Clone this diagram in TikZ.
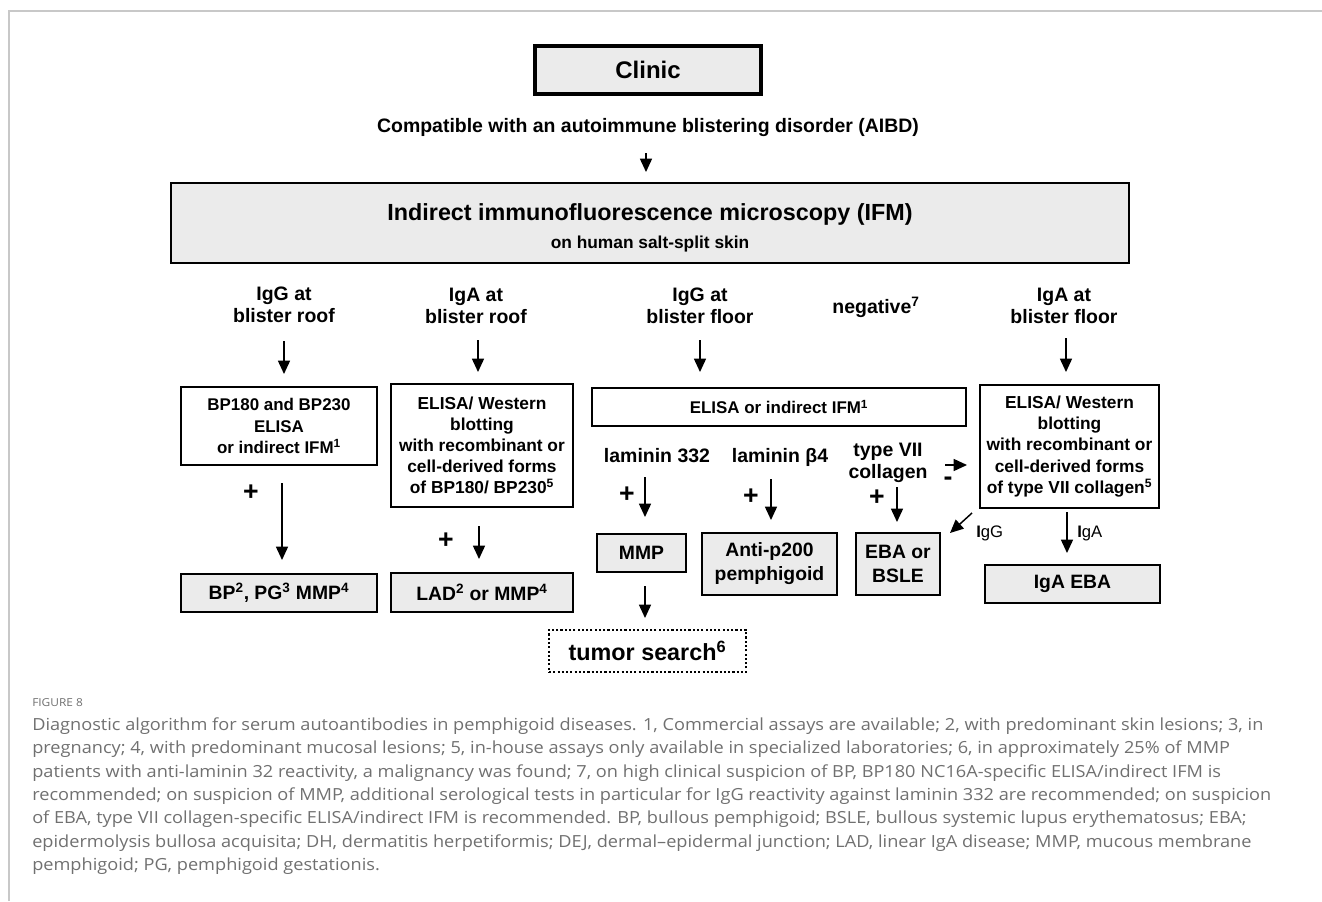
\documentclass[tikz,border=0pt]{standalone}
\usepackage{fontspec}
\setmainfont{Liberation Sans}
\newfontfamily\capfont[FakeStretch=1.09]{Open Sans}
\usetikzlibrary{arrows.meta}
\definecolor{boxgray}{HTML}{EBEBEB}
\definecolor{framegray}{HTML}{C8C8C8}
\definecolor{capgray}{HTML}{707070}
\newdimen\pxu \pxu=0.75pt
\newcommand\myfs[2]{\fontsize{#1}{#2}\selectfont}
\begin{document}
\begin{tikzpicture}[x=0.75pt,y=-0.75pt,
 box/.style={draw, line width=2pt, align=center, inner sep=0pt, font=\bfseries\myfs{13}{15.8}},
 res/.style={box, fill=boxgray, font=\bfseries\myfs{14.5}{18}},
 lbl/.style={align=center, inner sep=0pt, font=\bfseries\myfs{14.6}{16.5}},
 arr/.style={line width=1.1pt, -{Triangle[length=10pt,width=9pt]}},
 pls/.style={inner sep=0pt, font=\bfseries\myfs{20}{20}},
 sm/.style={inner sep=0pt, font=\myfs{12.5}{12.5}},
 captxt/.style={anchor=base west, inner sep=0pt, font=\capfont\myfs{12.5}{14}, text=capgray}
]
\path[use as bounding box] (0,0) rectangle (1322,901);
\draw[framegray, line width=1.1pt] (9,901) -- (9,11) -- (1322,11);

% top
\node[res, line width=2.3pt, minimum width=226\pxu, minimum height=48\pxu, font=\bfseries\myfs{18}{20}] (clinic) at (648,70) {Clinic};
\node[lbl, font=\bfseries\myfs{14.6}{16}] (compat) at (648,128) {Compatible with an autoimmune blistering disorder (AIBD)};
\node[res, minimum width=958\pxu, minimum height=80\pxu] (ifm) at (650,223) {{\myfs{17.5}{20}\rule{0pt}{20pt}Indirect immunofluorescence microscopy (IFM)}\\[3pt]{\myfs{13}{14}on human salt-split skin}};

% column labels
\node[lbl] (c1) at (284,305) {IgG at\\blister roof};
\node[lbl] (c2) at (476,306) {IgA at\\blister roof};
\node[lbl] (c3) at (700,306) {IgG at\\blister floor};
\node[lbl] (c4) at (876,307) {negative\textsuperscript{7}};
\node[lbl] (c5) at (1064,306) {IgA at\\blister floor};

% test boxes
\node[box, minimum width=196\pxu, minimum height=78\pxu, font=\bfseries\myfs{12.7}{15.8}] (bp) at (279,426) {BP180 and BP230\\ELISA\\or indirect IFM\textsuperscript{1}};
\node[box, minimum width=182\pxu, minimum height=123\pxu] (wl) at (482,445.5) {ELISA/ Western\\blotting\\with recombinant or\\cell-derived forms\\of BP180/ BP230\textsuperscript{5}};
\node[box, minimum width=374\pxu, minimum height=38\pxu, font=\bfseries\myfs{12.7}{15.8}] (ei) at (779,407) {ELISA or indirect IFM\textsuperscript{1}};
\node[box, minimum width=179\pxu, minimum height=123\pxu] (wr) at (1069.5,446.5) {ELISA/ Western\\blotting\\with recombinant or\\cell-derived forms\\of type VII collagen\textsuperscript{5}};

% antigen labels
\node[lbl] (l332) at (657,456) {laminin 332};
\node[lbl] (lb4) at (780,457) {laminin β4};
\node[lbl] (t7) at (888,463) {type VII\\collagen};

% results
\node[res, minimum width=196\pxu, minimum height=38\pxu] (bp2) at (279,593) {BP\textsuperscript{2}, PG\textsuperscript{3} MMP\textsuperscript{4}};
\node[res, minimum width=182\pxu, minimum height=39\pxu] (lad) at (482,592.5) {LAD\textsuperscript{2} or MMP\textsuperscript{4}};
\node[res, minimum width=89\pxu, minimum height=38\pxu] (mmp) at (641.5,553) {MMP};
\node[box, line width=1.6pt, dash pattern=on 1.6pt off 1.6pt, minimum width=197\pxu, minimum height=42\pxu, font=\bfseries\myfs{17.5}{20}] (tumor) at (647.5,651) {tumor search\textsuperscript{6}};
\node[res, minimum width=135\pxu, minimum height=62\pxu] (p200) at (769.5,564) {Anti-p200\\pemphigoid};
\node[res, minimum width=84\pxu, minimum height=62\pxu] (eba) at (898,564) {EBA or\\BSLE};
\node[res, minimum width=175\pxu, minimum height=38\pxu] (igaeba) at (1072.5,584) {IgA EBA};

% plus / minus signs
\node[pls] (p1) at (251,493) {+};
\node[pls] (p2) at (446,541) {+};
\node[pls] (p3) at (627,495) {+};
\node[pls] (p4) at (751,497) {+};
\node[pls] (p5) at (877,498) {+};
\node[pls] (m1) at (948,481) {-};

% small labels
\node[sm, anchor=west] (lg) at (976,533) {\textbf{I}gG};
\node[sm, anchor=west] (la) at (1077,533) {\textbf{I}gA};

% arrow end points
\coordinate (a0s) at (646,153); \coordinate (a0e) at (646,172);
\coordinate (a1s) at (284,341); \coordinate (a1e) at (284,374);
\coordinate (a2s) at (478,340); \coordinate (a2e) at (478,372);
\coordinate (a3s) at (700,340); \coordinate (a3e) at (700,372);
\coordinate (a5s) at (1066,338); \coordinate (a5e) at (1066,372);
\coordinate (b1s) at (282,483); \coordinate (b1e) at (282,560);
\coordinate (b2s) at (479,526); \coordinate (b2e) at (479,559);
\coordinate (b3s) at (645,477); \coordinate (b3e) at (645,517);
\coordinate (b4s) at (771,479); \coordinate (b4e) at (771,520);
\coordinate (b5s) at (897,487); \coordinate (b5e) at (897,522);
\coordinate (b6s) at (645,586); \coordinate (b6e) at (645,618);
\coordinate (ns) at (945,465); \coordinate (ne) at (967,465);
\coordinate (gs) at (972,513); \coordinate (ge) at (950,533);
\coordinate (as) at (1067,512); \coordinate (ae) at (1067,553);

\draw[arr] (a0s) -- (a0e);
\draw[arr] (a1s) -- (a1e);
\draw[arr] (a2s) -- (a2e);
\draw[arr] (a3s) -- (a3e);
\draw[arr] (a5s) -- (a5e);
\draw[arr] (b1s) -- (b1e);
\draw[arr] (b2s) -- (b2e);
\draw[arr] (b3s) -- (b3e);
\draw[arr] (b4s) -- (b4e);
\draw[arr] (b5s) -- (b5e);
\draw[arr] (b6s) -- (b6e);
\draw[arr] (ns) -- (ne);
\draw[arr] (gs) -- (ge);
\draw[arr] (as) -- (ae);

% caption
\node[captxt, font=\capfont\myfs{8.2}{10}] (fig) at (32,706) {FIGURE 8};
\node[captxt] (cl1) at (32,730) {Diagnostic algorithm for serum autoantibodies in pemphigoid diseases. 1, Commercial assays are available; 2, with predominant skin lesions; 3, in};
\node[captxt] (cl2) at (32,753) {pregnancy; 4, with predominant mucosal lesions; 5, in-house assays only available in specialized laboratories; 6, in approximately 25\% of MMP};
\node[captxt] (cl3) at (32,777) {patients with anti-laminin 32 reactivity, a malignancy was found; 7, on high clinical suspicion of BP, BP180 NC16A-specific ELISA/indirect IFM is};
\node[captxt] (cl4) at (32,800) {recommended; on suspicion of MMP, additional serological tests in particular for IgG reactivity against laminin 332 are recommended; on suspicion};
\node[captxt] (cl5) at (32,823) {of EBA, type VII collagen-specific ELISA/indirect IFM is recommended. BP, bullous pemphigoid; BSLE, bullous systemic lupus erythematosus; EBA;};
\node[captxt] (cl6) at (32,847) {epidermolysis bullosa acquisita; DH, dermatitis herpetiformis; DEJ, dermal–epidermal junction; LAD, linear IgA disease; MMP, mucous membrane};
\node[captxt] (cl7) at (32,870) {pemphigoid; PG, pemphigoid gestationis.};
\end{tikzpicture}
\end{document}
